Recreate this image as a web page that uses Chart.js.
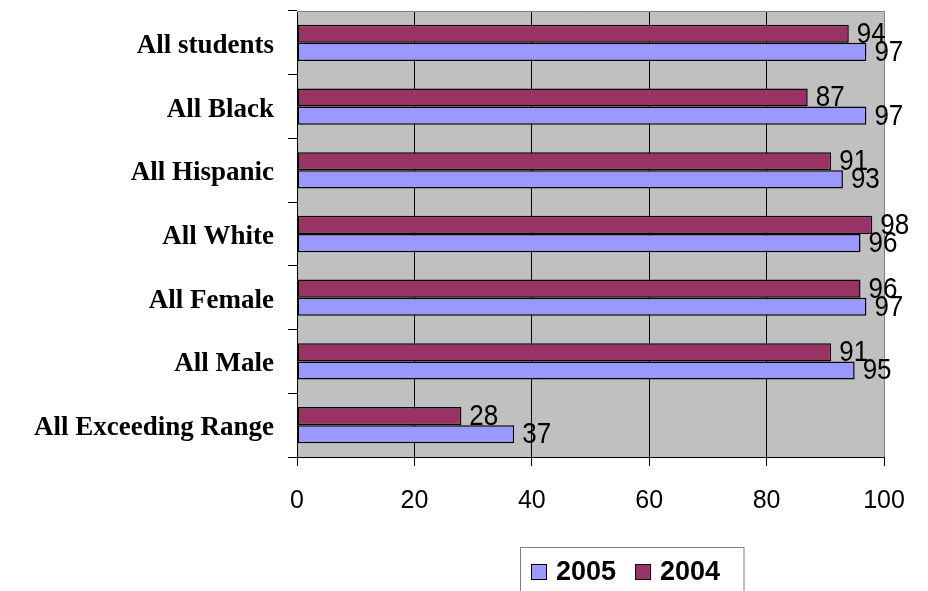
<!DOCTYPE html>
<html>
<head>
<meta charset="utf-8">
<script src="https://cdn.jsdelivr.net/npm/chart.js@4/dist/chart.umd.min.js"></script>
<style>
  html, body { margin: 0; padding: 0; background: #ffffff; }
  #wrap { width: 928px; height: 591px; position: relative; }
</style>
</head>
<body>
<div id="wrap"><canvas id="chart" width="928" height="591"></canvas></div>
<script>
// Student groups shown on the vertical axis
const categories = ['All students', 'All Black', 'All Hispanic', 'All White', 'All Female', 'All Male', 'All Exceeding Range'];
// Percent values per year
const values2004 = [94, 87, 91, 98, 96, 91, 28];
const values2005 = [97, 97, 93, 96, 97, 95, 37];
// Horizontal axis ticks
const xTicks = [0, 20, 40, 60, 80, 100];

const COLOR_2004 = '#993366';
const COLOR_2005 = '#9999FF';

// Gray plot background plus a gray frame on the top and right edges
const plotFrame = {
  id: 'plotFrame',
  beforeDraw(chart) {
    const { ctx, chartArea: a } = chart;
    ctx.save();
    ctx.fillStyle = '#C0C0C0';
    ctx.fillRect(a.left, a.top, a.right - a.left, a.bottom - a.top);
    ctx.restore();
  },
  beforeDatasetsDraw(chart) {
    const { ctx, chartArea: a } = chart;
    ctx.save();
    ctx.strokeStyle = '#808080';
    ctx.lineWidth = 1;
    ctx.beginPath();
    ctx.moveTo(a.left, a.top + 0.5);
    ctx.lineTo(a.right + 0.5, a.top + 0.5);
    ctx.lineTo(a.right + 0.5, a.bottom);
    ctx.stroke();
    ctx.restore();
  }
};

// Value written just past the end of each bar (slightly tall glyphs)
const barValues = {
  id: 'barValues',
  afterDatasetsDraw(chart) {
    const { ctx } = chart;
    ctx.save();
    ctx.font = '26px "Liberation Sans", Arial, sans-serif';
    ctx.fillStyle = '#000000';
    ctx.textAlign = 'left';
    ctx.textBaseline = 'middle';
    chart.data.datasets.forEach((ds, i) => {
      const meta = chart.getDatasetMeta(i);
      meta.data.forEach((bar, j) => {
        ctx.save();
        ctx.translate(bar.x + 8, bar.y + 1);
        ctx.scale(1, 1.1);
        ctx.fillText(String(ds.data[j]), 0, 0);
        ctx.restore();
      });
    });
    ctx.restore();
  }
};

// Boxed legend below the plot, 2005 listed first
const boxLegend = {
  id: 'boxLegend',
  afterDraw(chart) {
    const { ctx } = chart;
    const items = chart.data.datasets.slice().reverse();
    ctx.save();
    ctx.font = 'bold 27px "Liberation Sans", Arial, sans-serif';
    const boxL = 520, boxT = 547.5, boxR = 744.5, boxB = 600;
    ctx.fillStyle = '#ffffff';
    ctx.fillRect(boxL, boxT, boxR - boxL, boxB - boxT);
    ctx.strokeStyle = '#808080';
    ctx.lineWidth = 1;
    ctx.strokeRect(boxL + 0.5, boxT, boxR - boxL - 1, boxB - boxT);
    let x = 531;
    const cy = 572;
    items.forEach(ds => {
      ctx.fillStyle = ds.backgroundColor;
      ctx.fillRect(x + 0.5, cy - 7.5, 15, 15);
      ctx.strokeStyle = '#000000';
      ctx.strokeRect(x + 0.5, cy - 7.5, 15, 15);
      ctx.fillStyle = '#000000';
      ctx.textAlign = 'left';
      ctx.textBaseline = 'middle';
      ctx.fillText(ds.label, x + 25, cy + 1);
      x += 25 + ctx.measureText(ds.label).width + 19;
    });
    ctx.restore();
  }
};

new Chart(document.getElementById('chart'), {
  type: 'bar',
  data: {
    labels: categories,
    datasets: [
      { label: '2004', data: values2004, backgroundColor: COLOR_2004, borderColor: '#000000', borderWidth: 1.5, borderSkipped: false },
      { label: '2005', data: values2005, backgroundColor: COLOR_2005, borderColor: '#000000', borderWidth: 1.5, borderSkipped: false }
    ]
  },
  options: {
    indexAxis: 'y',
    responsive: false,
    animation: false,
    devicePixelRatio: 1,
    layout: { padding: { top: 11, right: 44, left: 0, bottom: 0 } },
    datasets: { bar: { categoryPercentage: 0.57, barPercentage: 1.0 } },
    plugins: {
      legend: { display: false },
      tooltip: { enabled: false }
    },
    scales: {
      x: {
        type: 'linear',
        min: xTicks[0],
        max: xTicks[xTicks.length - 1],
        afterBuildTicks(scale) { scale.ticks = xTicks.map(v => ({ value: v })); },
        afterFit(scale) { scale.height = 134; scale.paddingLeft = 0; scale.paddingRight = 0; },
        ticks: {
          color: '#000000',
          padding: 20,
          font: { family: '"Liberation Sans", Arial, sans-serif', size: 25 }
        },
        grid: {
          drawOnChartArea: true,
          color: ctx => (ctx.tick && ctx.tick.value === 100) ? '#808080' : '#000000',
          tickColor: '#000000',
          tickLength: 9,
          lineWidth: 1
        },
        border: { display: true, color: '#000000', width: 1 }
      },
      y: {
        type: 'category',
        afterFit(scale) { scale.width = 297; scale.paddingTop = 0; scale.paddingBottom = 0; },
        ticks: {
          color: '#000000',
          padding: 14,
          labelOffset: 3,
          font: { family: '"Liberation Serif", "Times New Roman", serif', size: 27, weight: 'bold' }
        },
        grid: {
          offset: true,
          drawOnChartArea: false,
          color: '#000000',
          tickLength: 9,
          lineWidth: 1
        },
        border: { display: true, color: '#000000', width: 1 }
      }
    }
  },
  plugins: [plotFrame, barValues, boxLegend]
});
</script>
</body>
</html>
